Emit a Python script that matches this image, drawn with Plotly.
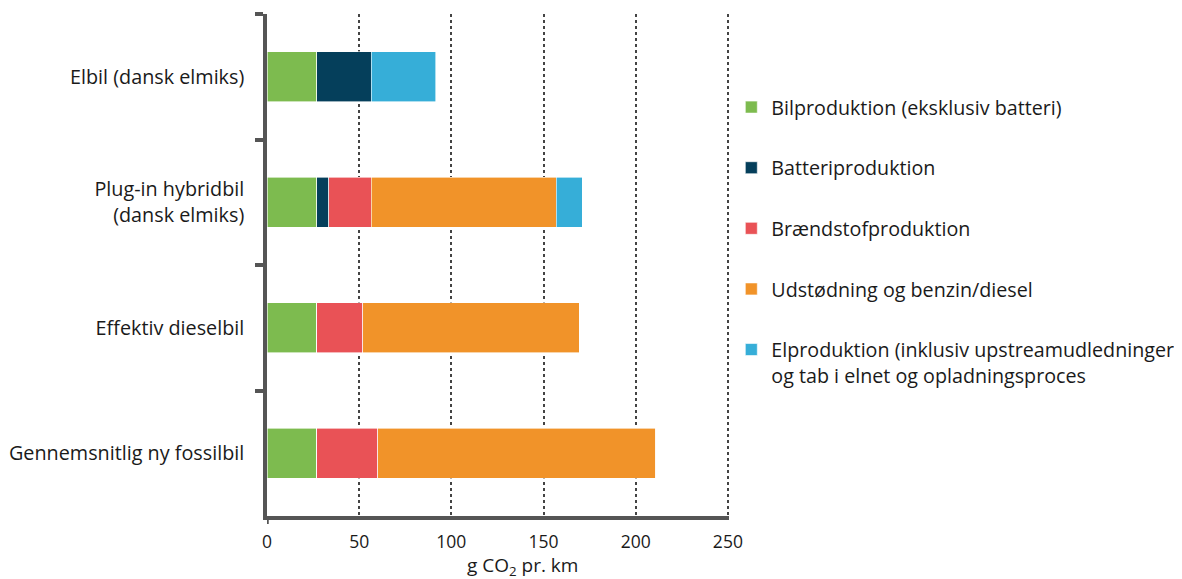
import plotly.graph_objects as go

categories = ["Elbil (dansk elmiks)", "Plug-in hybridbil<br>(dansk elmiks)", "Effektiv dieselbil", "Gennemsnitlig ny fossilbil"]
series_names = [
    "Bilproduktion (eksklusiv batteri)",
    "Batteriproduktion",
    "Brændstofproduktion",
    "Udstødning og benzin/diesel",
    "Elproduktion (inklusiv upstreamudledninger<br>og tab i elnet og opladningsproces",
]
bilproduktion = [27, 27, 27, 27]
batteriproduktion = [29.5, 6.5, 0, 0]
braendstofproduktion = [0, 23, 25, 33]
udstoedning = [0, 100.5, 117.5, 151]
elproduktion = [35, 14, 0, 0]
x_ticks = [0, 50, 100, 150, 200, 250]

series_values = [bilproduktion, batteriproduktion, braendstofproduktion, udstoedning, elproduktion]
colors = ["#7dbb4f", "#053f5b", "#e95256", "#f19329", "#36aed8"]

FONT = "Open Sans"
TXT = "#1a1a1a"
AX = "#555555"

fig = go.Figure()
for i, (name, vals, col) in enumerate(zip(series_names, series_values, colors)):
    fig.add_trace(go.Bar(
        y=categories, x=vals, name=name, orientation="h",
        marker=dict(color=col, line=dict(color="white", width=0.6)),
        width=0.4, legendgroup=f"g{i}",
    ))

fig.update_layout(
    barmode="stack",
    width=1182, height=579,
    margin=dict(l=259, r=461, t=6, b=71, autoexpand=False),
    paper_bgcolor="white", plot_bgcolor="white",
    font=dict(family=FONT, size=19.8, color=TXT),
    legend=dict(
        x=1.005, y=0.853, xanchor="left", yanchor="top",
        font=dict(family=FONT, size=19.7, color=TXT),
        tracegroupgap=32, traceorder="grouped", valign="top",
        bgcolor="rgba(0,0,0,0)",
    ),
    showlegend=True,
)
fig.update_xaxes(
    range=[0, 250.6], tickvals=x_ticks, ticktext=[str(v) for v in x_ticks],
    showgrid=True, gridcolor="#444444", griddash="3px,3px", gridwidth=1.6,
    showline=True, linecolor=AX, linewidth=3.5,
    ticks="outside", ticklen=7, tickcolor="rgba(0,0,0,0)",
    zeroline=False, tickfont=dict(size=17.5), automargin=False,
)
fig.update_yaxes(
    categoryorder="array", categoryarray=categories, autorange="reversed",
    showline=True, linecolor=AX, linewidth=3.5,
    ticks="outside", tickson="boundaries", ticklen=8, tickwidth=3.5, tickcolor=AX,
    ticklabelstandoff=15, showgrid=False, zeroline=False, automargin=False,
)
fig.add_annotation(
    text="g CO<sub>2</sub> pr. km", xref="paper", yref="paper",
    x=0.552, y=-0.099, yanchor="middle", xanchor="center", showarrow=False,
    font=dict(size=19, color=TXT, family=FONT),
)
fig.add_shape(type="line", xref="x", yref="paper", x0=0, x1=0, y0=0, y1=-0.016,
              line=dict(color=AX, width=3.5))

fig.write_html("out.html")
